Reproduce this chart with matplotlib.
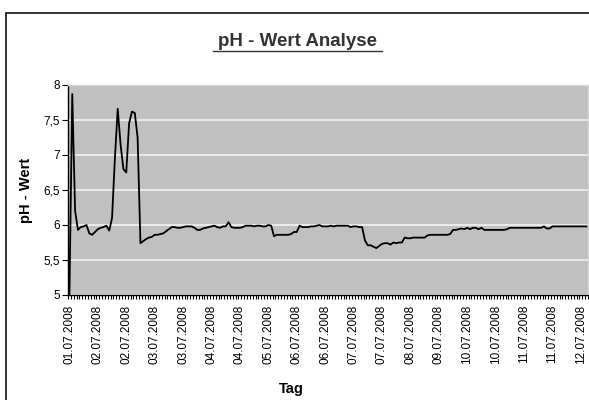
import numpy as np
import matplotlib.pyplot as plt
from matplotlib.lines import Line2D
from matplotlib.patches import Rectangle

plt.rcParams['font.family'] = ['Liberation Sans', 'DejaVu Sans']

# pH-Messwerte, ein Wert je Messung (183 Messungen)
ph_werte = [
    5.00, 7.87, 6.20, 5.93, 5.97, 5.98, 6.00, 5.88, 5.86, 5.90,
    5.94, 5.96, 5.97, 5.99, 5.92, 6.10, 6.95, 7.66, 7.15, 6.80,
    6.75, 7.45, 7.62, 7.60, 7.25, 5.74, 5.77, 5.80, 5.82, 5.83,
    5.86, 5.86, 5.87, 5.88, 5.91, 5.94, 5.97, 5.97, 5.96, 5.96,
    5.97, 5.98, 5.98, 5.98, 5.96, 5.93, 5.93, 5.95, 5.96, 5.97,
    5.98, 5.99, 5.97, 5.96, 5.98, 5.98, 6.04, 5.97, 5.96, 5.96,
    5.96, 5.97, 5.99, 5.99, 5.99, 5.98, 5.99, 5.99, 5.98, 5.98,
    6.00, 5.99, 5.84, 5.86, 5.86, 5.86, 5.86, 5.86, 5.87, 5.90,
    5.90, 5.99, 5.97, 5.97, 5.97, 5.98, 5.98, 5.99, 6.00, 5.98,
    5.98, 5.98, 5.99, 5.98, 5.99, 5.99, 5.99, 5.99, 5.99, 5.97,
    5.98, 5.98, 5.97, 5.97, 5.78, 5.71, 5.71, 5.69, 5.67, 5.70,
    5.73, 5.74, 5.74, 5.72, 5.75, 5.74, 5.75, 5.75, 5.82, 5.81,
    5.81, 5.82, 5.82, 5.82, 5.82, 5.82, 5.85, 5.86, 5.86, 5.86,
    5.86, 5.86, 5.86, 5.86, 5.87, 5.93, 5.93, 5.94, 5.95, 5.94,
    5.96, 5.94, 5.96, 5.96, 5.94, 5.96, 5.93, 5.93, 5.93, 5.93,
    5.93, 5.93, 5.93, 5.93, 5.94, 5.96, 5.96, 5.96, 5.96, 5.96,
    5.96, 5.96, 5.96, 5.96, 5.96, 5.96, 5.96, 5.98, 5.95, 5.95,
    5.98, 5.98, 5.98, 5.98, 5.98, 5.98, 5.98, 5.98, 5.98, 5.98,
    5.98, 5.98, 5.98,
]

# Beschriftung jeder zehnten Messung
tag_labels = [
    '01.07.2008', '02.07.2008', '02.07.2008', '03.07.2008', '03.07.2008',
    '04.07.2008', '04.07.2008', '05.07.2008', '06.07.2008', '06.07.2008',
    '07.07.2008', '07.07.2008', '08.07.2008', '09.07.2008', '10.07.2008',
    '10.07.2008', '11.07.2008', '11.07.2008', '12.07.2008',
]
y_ticks = [5, 5.5, 6, 6.5, 7, 7.5, 8]
y_labels = ['5', '5,5', '6', '6,5', '7', '7,5', '8']

n = len(ph_werte)
x = np.arange(n)

fig = plt.figure(figsize=(5.89, 4.0), dpi=100)
fig.patch.set_facecolor('white')

# Rahmen des Diagrammbereichs
fig.patches.append(Rectangle((6 / 589, -0.1), 1.2, 1 - 13 / 400 + 0.1,
                             transform=fig.transFigure, fill=False,
                             edgecolor='#222222', linewidth=1.3))

ax = fig.add_axes([68 / 589, 1 - 295 / 400, 520 / 589, 210 / 400])
ax.set_facecolor('#C0C0C0')
ax.plot(x, ph_werte, color='black', linewidth=1.3, clip_on=True)

ax.set_xlim(-0.5, n - 0.5)
ax.set_ylim(5, 8)
ax.set_yticks(y_ticks)
ax.set_yticklabels(y_labels, fontsize=8.5)
ax.yaxis.grid(True, color='#EEEEEE', linewidth=1.3)
ax.set_axisbelow(True)

ax.set_xticks(x[::10])
ax.set_xticklabels(tag_labels, rotation=90, fontsize=8.5)
ax.set_xticks(np.arange(n + 1) - 0.5, minor=True)
ax.tick_params(axis='x', which='major', length=0, pad=7)
ax.tick_params(axis='x', which='minor', length=3, width=0.8, direction='out')
ax.tick_params(axis='y', length=4, width=0.8, pad=2)

for side in ['left', 'bottom']:
    ax.spines[side].set_color('black')
    ax.spines[side].set_linewidth(1.0)
for side in ['top', 'right']:
    ax.spines[side].set_color('#D8D8D8')
    ax.spines[side].set_linewidth(1.0)

fig.text(26 / 589, 1 - 190 / 400, 'pH - Wert', rotation=90, fontsize=10.5,
         fontweight='bold', ha='center', va='center')
fig.text(291 / 589, 1 - 389 / 400, 'Tag', fontsize=10.5,
         fontweight='bold', ha='center', va='center')

# Titel mit Unterstreichung
fig.text(297.5 / 589, 1 - 41 / 400, 'pH - Wert Analyse', fontsize=13.5,
         fontweight='bold', color='#333333', ha='center', va='center')
fig.lines.append(Line2D([213 / 589, 382 / 589], [1 - 51 / 400, 1 - 51 / 400],
                        transform=fig.transFigure, color='#333333', linewidth=1.0))

fig.savefig('out.png', dpi=100)
